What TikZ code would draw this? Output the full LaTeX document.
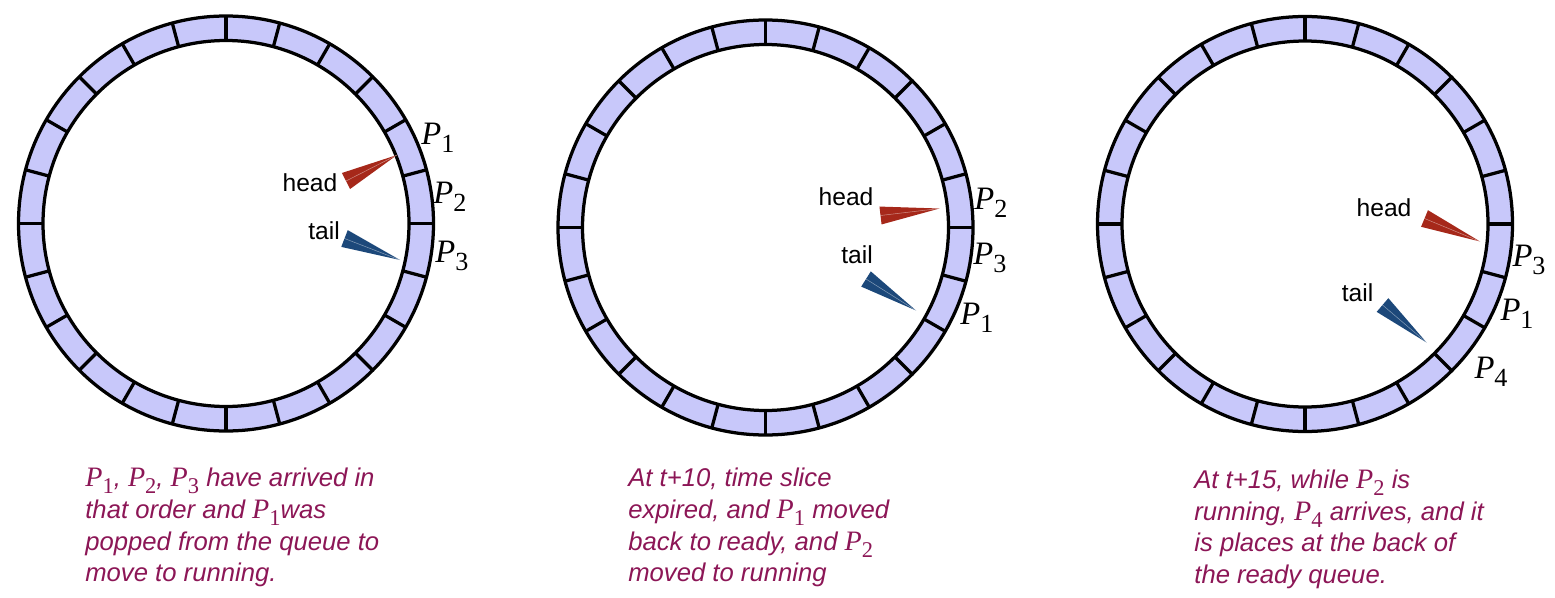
\documentclass[tikz,border=0pt]{standalone}
\usepackage{fontspec}
\usepackage{graphicx}
\setmainfont{Liberation Sans}
\newfontfamily\tms{Liberation Serif}
\usetikzlibrary{calc}
\definecolor{slotblue}{RGB}{200,200,250}
\definecolor{headred}{RGB}{166,40,26}
\definecolor{tailblue}{RGB}{28,72,122}
\definecolor{captext}{RGB}{140,22,86}
\tikzset{ring/.style = {draw, line width = 1.85pt}}
\tikzset{tag/.style = {font = \fontsize{14pt}{17pt}\selectfont, inner sep = 0}}
\tikzset{proc/.style = {font = \fontsize{18.6pt}{20pt}\selectfont, inner sep = 0}}
\tikzset{caption/.style = {anchor = north west, align = left, inner sep = 0, text = captext,
                           font = \fontsize{14.6pt}{18pt}\selectfont\itshape}}
\tikzset{shine/.style = {white, opacity = 0.45, line width = 0.3pt}}
\newcommand\procname[1]{{\tms\itshape P}\raisebox{-0.25em}{\tms\upshape\scalebox{0.8}{#1}}}
\newcommand\cproc[1]{{\fontsize{16pt}{18pt}\selectfont\procname{#1}}}

\begin{document}
\begin{tikzpicture}
      \useasboundingbox (0, 0) rectangle (31.1, 11.94);
      \coordinate (r1) at (4.52, 7.47);
      \coordinate (r2) at (15.31, 7.39);
      \coordinate (r3) at (26.10, 7.46);
      \foreach \r in {r1, r2, r3} {
        \draw [ring, fill = slotblue, even odd rule] (\r) circle (4.15) (\r) circle (3.66);
        \foreach \a in {0, 15, ..., 345}
          \draw [ring] ($(\r) + (\a:3.66)$) -- ($(\r) + (\a:4.15)$);
      }

      \coordinate (h1) at (6.92, 8.32);   \coordinate (h1t) at (7.94, 8.84);
      \coordinate (t1) at (6.89, 7.17);   \coordinate (t1t) at (8.00, 6.74);
      \coordinate (h2) at (17.61, 7.63);  \coordinate (h2t) at (18.79, 7.77);
      \coordinate (t2) at (17.32, 6.36);  \coordinate (t2t) at (18.32, 5.73);
      \coordinate (h3) at (28.49, 7.57);  \coordinate (h3t) at (29.60, 7.11);
      \coordinate (t3) at (27.65, 5.84);  \coordinate (t3t) at (28.53, 5.09);
      \foreach \b/\t/\c in {h1/h1t/headred, t1/t1t/tailblue, h2/h2t/headred,
                            t2/t2t/tailblue, h3/h3t/headred, t3/t3t/tailblue} {
        \fill [fill = \c] ($(\b)!0.18cm!90:(\t)$) -- (\t) -- ($(\b)!0.18cm!-90:(\t)$) -- cycle;
        \draw [shine] (\b) -- (\t);
      }

      \node [tag] (head1) at (6.20, 8.28) {head};
      \node [tag] (tail1) at (6.48, 7.32) {tail};
      \node [tag] (head2) at (16.92, 8.00) {head};
      \node [tag] (tail2) at (17.14, 6.84) {tail};
      \node [tag] (head3) at (27.68, 7.78) {head};
      \node [tag] (tail3) at (27.15, 6.09) {tail};

      \node [proc] (p1a) at ($(r1) + (4.24, 1.71)$) {\procname{1}};
      \node [proc] (p2a) at ($(r1) + (4.48, 0.53)$) {\procname{2}};
      \node [proc] (p3a) at ($(r1) + (4.52, -0.65)$) {\procname{3}};
      \node [proc] (p2b) at ($(r2) + (4.51, 0.49)$) {\procname{2}};
      \node [proc] (p3b) at ($(r2) + (4.49, -0.61)$) {\procname{3}};
      \node [proc] (p1b) at ($(r2) + (4.23, -1.81)$) {\procname{1}};
      \node [proc] (p3c) at ($(r3) + (4.48, -0.72)$) {\procname{3}};
      \node [proc] (p1c) at ($(r3) + (4.24, -1.80)$) {\procname{1}};
      \node [proc] (p4c) at ($(r3) + (3.72, -2.96)$) {\procname{4}};

      \node [caption] (cap1) at (1.70, 2.58) {\cproc{1}, \cproc{2}, \cproc{3} have arrived in\\
        that order and \cproc{1}was\\ popped from the queue to\\ move to running.};
      \node [caption] (cap2) at (12.56, 2.58) {At t+10, time slice\\
        expired, and \cproc{1} moved\\ back to ready, and \cproc{2}\\ moved to running};
      \node [caption] (cap3) at (23.88, 2.55) {At t+15, while \cproc{2} is\\
        running, \cproc{4} arrives, and it\\ is places at the back of\\ the ready queue.};
    \end{tikzpicture}
\end{document}
